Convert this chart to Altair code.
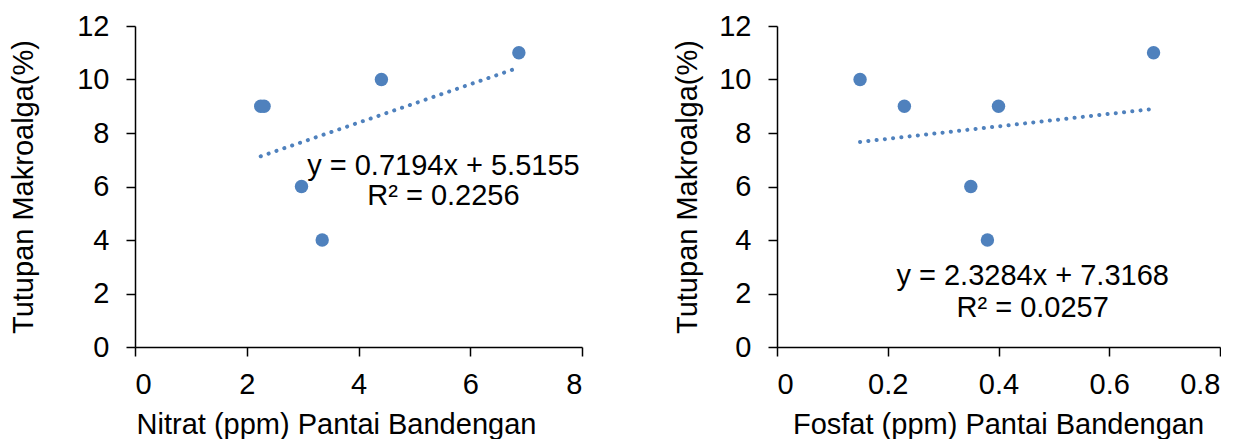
import altair as alt
import pandas as pd

# ---- data ----
nitrat = [2.25, 2.31, 2.98, 3.35, 4.41, 6.87]
tutupan_n = [9, 9, 6, 4, 10, 11]
fosfat = [0.15, 0.23, 0.35, 0.38, 0.40, 0.68]
tutupan_f = [10, 9, 6, 4, 9, 11]

eq_left_text = ["y = 0.7194x + 5.5155", "R² = 0.2256"]
eq_left_x = [5.52, 5.52]
eq_left_y = [6.42, 5.29]
eq_right_text = ["y = 2.3284x + 7.3168", "R² = 0.0257"]
eq_right_x = [0.4617, 0.4617]
eq_right_y = [2.325, 1.14]

y_title = "Tutupan Makroalga(%)"
x_title_left = "Nitrat (ppm) Pantai Bandengan"
x_title_right = "Fosfat (ppm) Pantai Bandengan"
y_ticks = [0, 2, 4, 6, 8, 10, 12]
x_ticks_left = [0, 2, 4, 6, 8]
x_ticks_right = [0, 0.2, 0.4, 0.6, 0.8]

BLUE = "#4F81BD"
FONT = "Liberation Sans"


def panel(xs, ys, eq_t, eq_x, eq_y, xdom, xticks, xtitle, xtitle_x, ytitle_x, w):
    df = pd.DataFrame({"x": xs, "y": ys})
    tdf = pd.DataFrame({"x": eq_x, "y": eq_y, "t": eq_t})
    xenc = alt.X(
        "x:Q",
        scale=alt.Scale(domain=xdom, nice=False, zero=False),
        axis=alt.Axis(
            values=xticks, format="~g", title=xtitle, labelPadding=14,
            titleX=xtitle_x, titleY=86, titleBaseline="alphabetic", titleAlign="center",
        ),
    )
    yenc = alt.Y(
        "y:Q",
        scale=alt.Scale(domain=[0, 12], nice=False),
        axis=alt.Axis(
            values=y_ticks, title=y_title, labelPadding=17,
            titleX=ytitle_x, titleBaseline="alphabetic", titleAngle=270,
        ),
    )
    pts = alt.Chart(df).mark_circle(size=180, color=BLUE, opacity=1).encode(x=xenc, y=yenc)
    trend = (
        alt.Chart(df)
        .transform_regression("x", "y")
        .mark_line(color=BLUE, strokeWidth=4, strokeDash=[0.1, 8.2], strokeCap="round")
        .encode(x="x:Q", y="y:Q")
    )
    txt = (
        alt.Chart(tdf)
        .mark_text(font=FONT, fontSize=29, color="black", baseline="alphabetic", align="center")
        .encode(x="x:Q", y="y:Q", text="t:N")
    )
    return alt.layer(trend, pts, txt).properties(width=w, height=321)


left = panel(nitrat, tutupan_n, eq_left_text, eq_left_x, eq_left_y, [0, 8], x_ticks_left,
             x_title_left, 201, -103, 447)
right = panel(fosfat, tutupan_f, eq_right_text, eq_right_x, eq_right_y, [0, 0.8], x_ticks_right,
              x_title_right, 221, -81, 443)

chart = (
    alt.hconcat(left, right, spacing=90)
    .resolve_scale(x="independent", y="independent")
    .properties(padding={"left": 1, "top": 4, "right": 0, "bottom": 0})
    .configure_view(stroke=None)
    .configure_axis(
        labelFont=FONT, labelFontSize=29, labelColor="black",
        titleFont=FONT, titleFontSize=29, titleFontWeight="normal", titleColor="black",
        domainColor="black", domainWidth=1.5, tickColor="black", tickWidth=1.5, tickSize=9,
        grid=False,
    )
)

chart.save("out.html", embed_options={"renderer": "svg", "actions": False})
